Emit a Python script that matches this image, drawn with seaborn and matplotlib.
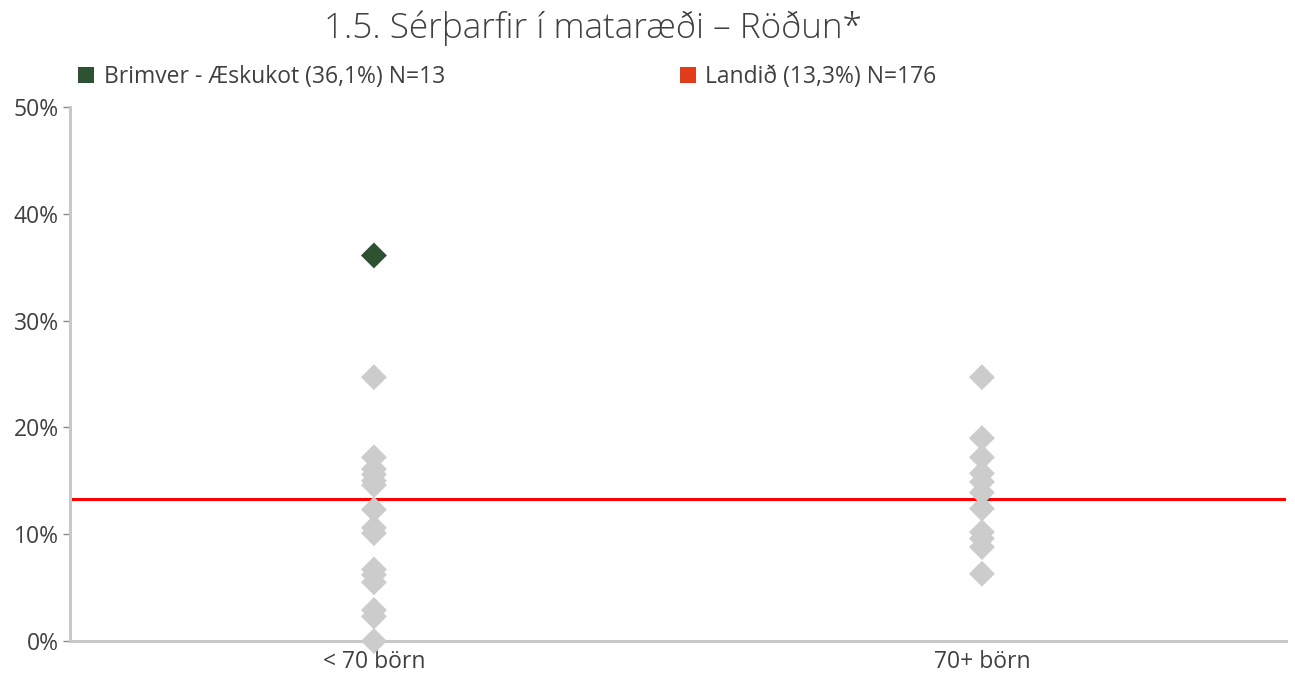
import matplotlib
matplotlib.use("Agg")
import matplotlib.pyplot as plt
from matplotlib.lines import Line2D
from matplotlib.ticker import PercentFormatter
import seaborn as sns
import pandas as pd

# Values (share of children with special dietary needs, %)
categories = ["< 70 börn", "70+ börn"]
small_others = [24.7, 17.2, 16.1, 15.6, 15.0, 14.6, 12.3, 10.6, 10.1,
                6.7, 6.2, 5.5, 2.9, 2.3, 0.0]
large_others = [24.7, 19.0, 17.2, 15.7, 14.9, 13.9, 12.4, 10.2, 9.6, 8.8, 6.3]
highlight_value = 36.1
highlight_category = "< 70 börn"
national_value = 13.3
highlight_label = "Brimver - Æskukot (36,1%) N=13"
national_label = "Landið (13,3%) N=176"
title = "1.5. Sérþarfir í mataræði – Röðun*"

rows = []
for v in small_others:
    rows.append((categories[0], v / 100, "other"))
for v in large_others:
    rows.append((categories[1], v / 100, "other"))
rows.append((highlight_category, highlight_value / 100, "highlight"))
df = pd.DataFrame(rows, columns=["flokkur", "hlutfall", "hopur"])

sns.set_theme(style="white")
plt.rcParams["font.family"] = ["Open Sans", "DejaVu Sans"]

GREEN = "#2E5131"
GREY = "#CCCCCC"
AXIS_GREY = "#C8C8C8"
TEXT = "#404040"
FS = 16.5

fig = plt.figure(figsize=(12.95, 6.73), dpi=100)
ax = fig.add_axes([0.054, 0.0475, 0.939, 0.7935])

sns.stripplot(data=df, x="flokkur", y="hlutfall", hue="hopur",
              order=categories, hue_order=["other", "highlight"],
              palette={"other": GREY, "highlight": GREEN},
              jitter=False, dodge=False, marker="D", size=13.2,
              linewidth=0, legend=False, ax=ax, clip_on=False, zorder=3)

ax.axhline(national_value / 100, color="#FF0000", lw=2.2, zorder=2)

ax.set_xlim(-0.5, 1.5)
ax.set_ylim(0, 0.5)
ax.set_yticks([0, 0.1, 0.2, 0.3, 0.4, 0.5])
ax.yaxis.set_major_formatter(PercentFormatter(1.0, decimals=0))
ax.set_xlabel("")
ax.set_ylabel("")

for side in ("top", "right"):
    ax.spines[side].set_visible(False)
for side in ("left", "bottom"):
    ax.spines[side].set_color(AXIS_GREY)
    ax.spines[side].set_linewidth(2.2)

ax.tick_params(axis="y", which="major", left=True, length=5, width=1,
               color="#888888", labelsize=FS, labelcolor=TEXT, pad=3)
ax.tick_params(axis="x", which="major", bottom=False, labelsize=FS,
               labelcolor=TEXT, pad=0.5)

# One legend entry per half of the plot width
legend_items = [(highlight_label, GREEN, 0.005), (national_label, "#E03C1A", 0.5)]
for label, color, x0 in legend_items:
    h = Line2D([], [], marker="s", linestyle="none", markersize=12,
               markerfacecolor=color, markeredgewidth=0, label=label)
    leg = ax.legend(handles=[h], frameon=False, loc="lower left",
                    bbox_to_anchor=(x0, 1.03), fontsize=FS,
                    handlelength=0.7, handletextpad=0.4, borderaxespad=0,
                    borderpad=0.1, labelcolor=TEXT)
    ax.add_artist(leg)
ax.legend_ = None

fig.text(0.458, 0.958, title, ha="center", va="center",
         fontsize=25.3, color=TEXT, fontweight="light")

fig.savefig("out.png", dpi=100, facecolor="white")
